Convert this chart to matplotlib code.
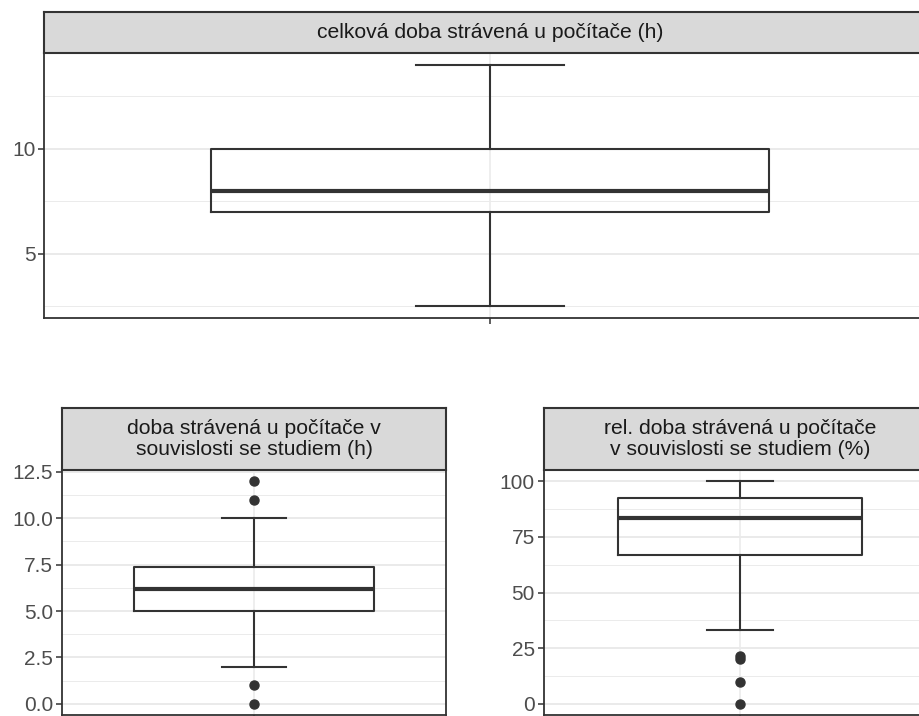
import numpy as np
import matplotlib
matplotlib.use("Agg")
import matplotlib.pyplot as plt

plt.rcParams['font.family'] = ['Liberation Sans', 'DejaVu Sans']

# box statistics: q1, median, q3, lower/upper whisker, outliers
titles = [
    "celková doba strávená u počítače (h)",
    "doba strávená u počítače v\nsouvislosti se studiem (h)",
    "rel. doba strávená u počítače\nv souvislosti se studiem (%)",
]
q1 = [7.0, 5.0, 66.7]
median = [8.0, 6.2, 83.3]
q3 = [10.0, 7.4, 92.6]
whis_lo = [2.5, 2.0, 33.3]
whis_hi = [14.0, 10.0, 100.0]
outliers = [[], [12.0, 11.0, 1.0, 0.0], [21.5, 20.0, 10.0, 0.0]]
major_ticks = [[5, 10], [0, 2.5, 5, 7.5, 10, 12.5], [0, 25, 50, 75, 100]]
tick_labels = [["5", "10"],
               ["0.0", "2.5", "5.0", "7.5", "10.0", "12.5"],
               ["0", "25", "50", "75", "100"]]

W, H = 920, 716
# panel boxes in pixels: left, top, right, bottom, strip height
panels = [
    (44.4, 53, 935.6, 318, 41),
    (62, 470, 446, 715, 62),
    (544, 470, 936, 715, 62),
]

fig = plt.figure(figsize=(W / 100, H / 100), dpi=100)
dark = '#333333'

for i, (l, t, r, b, sh) in enumerate(panels):
    ax = fig.add_axes([l / W, 1 - b / H, (r - l) / W, (b - t) / H])
    lo = min([whis_lo[i]] + outliers[i])
    hi = max([whis_hi[i]] + outliers[i])
    pad = (hi - lo) * 0.05
    ax.set_ylim(lo - pad, hi + pad)
    ax.set_xlim(0.4, 1.6)

    step = major_ticks[i][1] - major_ticks[i][0]
    minor = np.arange(major_ticks[i][0] - step / 2, hi + pad, step)
    for y in minor:
        ax.axhline(y, color='#EBEBEB', lw=0.7, zorder=0)
    for y in major_ticks[i]:
        ax.axhline(y, color='#E6E6E6', lw=1.2, zorder=0)
    ax.axvline(1, color='#EBEBEB', lw=1.2, zorder=0)

    stats = [dict(q1=q1[i], med=median[i], q3=q3[i], whislo=whis_lo[i],
                  whishi=whis_hi[i], fliers=outliers[i])]
    ax.bxp(stats, positions=[1], widths=0.75, capwidths=0.2,
           boxprops=dict(color=dark, lw=1.5),
           medianprops=dict(color=dark, lw=3.0),
           whiskerprops=dict(color=dark, lw=1.5),
           capprops=dict(color=dark, lw=1.5),
           flierprops=dict(marker='o', markerfacecolor=dark,
                           markeredgecolor=dark, markersize=6.5))

    ax.set_yticks(major_ticks[i])
    ax.set_yticklabels(tick_labels[i])
    ax.set_xticks([1])
    ax.set_xticklabels([""])
    ax.tick_params(axis='both', colors=dark, labelcolor='#4D4D4D',
                   labelsize=15, length=4.5, width=1.1, pad=2)
    for s in ax.spines.values():
        s.set_color(dark)
        s.set_linewidth(1.3)

    sax = fig.add_axes([l / W, 1 - t / H, (r - l) / W, sh / H])
    sax.set_facecolor('#D9D9D9')
    sax.set_xticks([])
    sax.set_yticks([])
    for s in sax.spines.values():
        s.set_color(dark)
        s.set_linewidth(1.5)
    sax.text(0.5, 0.5, titles[i], ha='center', va='center',
             fontsize=15.2, color='#1A1A1A', linespacing=1.12,
             transform=sax.transAxes)

fig.savefig("out.png", dpi=100)
